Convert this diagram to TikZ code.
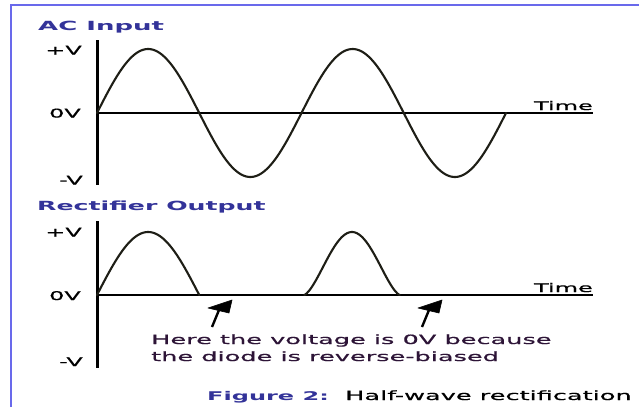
\documentclass[tikz,border=0pt]{standalone}
\usepackage{fontspec}
\setmainfont{DejaVu Sans}
\newfontfamily\wreg[FakeStretch=2.0]{DejaVu Sans}
\newfontfamily\wtxt[FakeStretch=2.0,FakeBold=0.6]{DejaVu Sans}
\usetikzlibrary{arrows.meta}
\definecolor{titleblue}{RGB}{51,51,153}
\definecolor{textdark}{RGB}{45,20,55}
\definecolor{framecol}{RGB}{105,105,235}
\definecolor{wavecol}{RGB}{30,30,22}
\tikzset{
  lab/.style={inner sep=0pt, font=\wtxt\fontsize{12}{14}\selectfont, text=black},
  ttl/.style={inner sep=0pt, font=\wreg\bfseries\fontsize{12.6}{15}\selectfont, text=titleblue},
  note/.style={inner sep=0pt, font=\wtxt\fontsize{12.8}{15}\selectfont, text=textdark, anchor=base west},
  vaxis/.style={line width=3pt, black},
  haxis/.style={line width=1.3pt, black},
  wave/.style={line width=2.1pt, wavecol, line join=round, line cap=round},
  shaft/.style={line width=2.4pt, black},
  headtri/.style={fill=black, draw=black, line width=0.6pt, line join=round}
}
\begin{document}
\begin{tikzpicture}[x=1pt,y=-1pt]
\useasboundingbox (0,0) rectangle (639,407);
\fill[white] (0,0) rectangle (639,407);
% frame
\draw[framecol, line width=1.5pt] (11,407) -- (11,5) -- (639,5);
% ---------- AC input ----------
\node[ttl, anchor=base west] (t1) at (38,30.5) {\scalebox{1.03}[1]{AC Input}};
\draw[vaxis] (97,40) -- (97,185);
\draw[haxis] (97,113) -- (593,113);
\node[lab, anchor=base east] (pv1) at (82,54.5) {+V};
\node[lab, anchor=base east] (zv1) at (81,117.5) {0V};
\node[lab, anchor=base east] (nv1) at (83,184.5) {-V};
\node[lab, anchor=base east] (time1) at (593,110) {Time};
\draw[wave] plot[domain=0:720, samples=220, smooth] ({97+0.56806*\x},{113-64*sin(\x)});
% ---------- Rectifier output ----------
\node[ttl, anchor=base west] (t2) at (37,210) {Rectifier Output};
\draw[vaxis] (97,221) -- (97,368);
\draw[haxis] (97,295) -- (593,295);
\node[lab, anchor=base east] (pv2) at (82,236.5) {+V};
\node[lab, anchor=base east] (zv2) at (81,300) {0V};
\node[lab, anchor=base east] (nv2) at (83,366) {-V};
\node[lab, anchor=base east] (time2) at (593,292) {Time};
\draw[wave] plot[domain=0:180, samples=80, smooth] ({97+0.56806*\x},{295-63*sin(\x)});
\draw[wave] plot[domain=0.5:179.5, samples=80, smooth] ({304+0.5333*\x},{295-63*pow(sin(\x),1.5)});
% pointers
\coordinate (a1t) at (212,327);
\coordinate (a1b) at (219,310);
\coordinate (a1h) at (232,300);
\coordinate (a2t) at (422,327);
\coordinate (a2b) at (429,310);
\coordinate (a2h) at (442,300);
\draw[shaft] (a1t) -- (a1b);
\draw[headtri] (a1h) -- ++(-24,8) -- ++(21,5) -- cycle;
\draw[shaft] (a2t) -- (a2b);
\draw[headtri] (a2h) -- ++(-24,8) -- ++(21,5) -- cycle;
\node[note] (n1) at (151,344) {Here the voltage is 0V because};
\node[note] (n2) at (151,361) {the diode is reverse-biased};
% caption
\node[inner sep=0pt, anchor=base west, font=\wreg\bfseries\fontsize{12}{14}\selectfont, text=titleblue] (cap1) at (207,400) {Figure 2:};
\node[note, text=black] (cap2) at (345,400) {Half-wave rectification};
\end{tikzpicture}
\end{document}
